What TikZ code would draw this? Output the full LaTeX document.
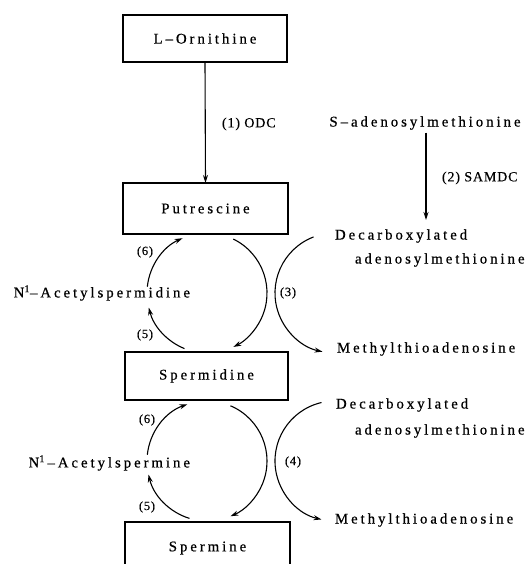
\documentclass[tikz,border=0pt]{standalone}
\usepackage{fontspec}
\setmainfont{Liberation Serif}
\newfontfamily\spaced[LetterSpace=20,FakeBold=0.6]{Liberation Serif}
\newfontfamily\labfont[LetterSpace=6,FakeBold=0.4]{Liberation Serif}
\usetikzlibrary{arrows.meta,calc}
\begin{document}
\begin{tikzpicture}[x=1pt,y=1pt,
  every node/.style={inner sep=0pt,outer sep=0pt},
  chem/.style={font=\spaced\fontsize{14.8}{16}\selectfont},
  box/.style={draw,line width=1.1pt,chem},
  lab/.style={font=\labfont\fontsize{14}{16}\selectfont},
  num/.style={font=\labfont\fontsize{12.5}{14}\selectfont},
  conn/.style={line width=1.1pt,-{Stealth[length=8pt,width=5pt]}}]
\useasboundingbox (0,0) rectangle (530,564);
% boxes
\node[box,minimum width=164pt,minimum height=47pt] (orn) at (205,525.5) {L–Ornithine};
\node[box,minimum width=165pt,minimum height=51pt] (put) at (205.5,355.5) {Putrescine};
\node[box,minimum width=163pt,minimum height=48pt] (spd) at (206.5,188) {Spermidine};
\node[chem,minimum width=165pt,minimum height=52pt] (spm) at (207.5,16) {Spermine};
\draw[line width=1.1pt] (spm.south west) |- (spm.north east) -- (spm.south east);
% ODC
\draw[conn] (orn.south) -- (put.north);
\node[lab,anchor=west] (odc) at (222,440) {(1) ODC};
% SAM branch
\node[chem] (sam) at (425,441) {S–adenosylmethionine};
\node[chem,anchor=west] (dec1) at (335,328) {Decarboxylated};
\node[chem,anchor=west] (ado1) at (355,304) {adenosylmethionine};
\coordinate (samend) at (426,344);
\draw[conn] (sam.south -| samend) ++(0,-3) -- (samend);
\node[lab,anchor=west] (samdc) at (442,386) {(2) SAMDC};
\node[chem,anchor=west] (mta1) at (337,215) {Methylthioadenosine};
\node[chem,anchor=east] (acd) at (190,271) {N\textsuperscript{1}–Acetylspermidine};
% second cycle texts
\node[chem,anchor=west] (dec2) at (336,159) {Decarboxylated};
\node[chem,anchor=west] (ado2) at (355,133) {adenosylmethionine};
\node[chem,anchor=west] (mta2) at (335,44) {Methylthioadenosine};
\node[chem,anchor=east] (acm) at (190,101) {N\textsuperscript{1}\,–Acetylspermine};
% circle centres
\coordinate (C1) at (207,271);
\coordinate (C3) at (335,271);
\coordinate (C2) at (207,103);
\coordinate (C4) at (335,103);
% first cycle
\draw[conn] ($(C1)+(64:60)$) arc[start angle=64,end angle=-64,radius=60];
\draw[conn] ($(C1)+(174:60)$) arc[start angle=174,end angle=114,radius=60];
\draw[conn] ($(C1)+(248:60)$) arc[start angle=248,end angle=194,radius=60];
\draw[conn] ($(C3)+(111:60)$) arc[start angle=111,end angle=258,radius=60];
\node[num] (n6a) at (145,312) {(6)};
\node[num] (n5a) at (145,229) {(5)};
\node[num] (n3) at (288,271) {(3)};
% second cycle
\draw[conn] ($(C2)+(67:60)$) arc[start angle=67,end angle=-67,radius=60];
\draw[conn] ($(C2)+(174:60)$) arc[start angle=174,end angle=109,radius=60];
\draw[conn] ($(C2)+(253:60)$) arc[start angle=253,end angle=193,radius=60];
\draw[conn] ($(C4)+(103:60)$) arc[start angle=103,end angle=257,radius=60];
\node[num] (n6b) at (147,144) {(6)};
\node[num] (n5b) at (147,57) {(5)};
\node[num] (n4) at (293,102) {(4)};
\end{tikzpicture}
\end{document}
